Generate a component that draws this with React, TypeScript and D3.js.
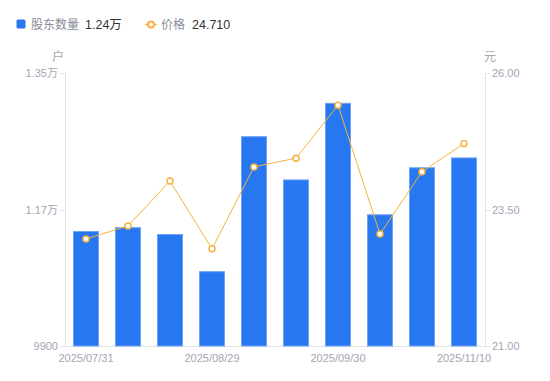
import React from "react";
import * as d3 from "d3";

const dates = ["2025/07/31", "2025/08/10", "2025/08/20", "2025/08/29", "2025/09/10", "2025/09/19", "2025/09/30", "2025/10/20", "2025/10/31", "2025/11/10"];
const holders = [11410, 11460, 11370, 10880, 12660, 12090, 13100, 11630, 12250, 12380];
const prices = [22.96, 23.20, 24.02, 22.78, 24.28, 24.44, 25.41, 23.05, 24.19, 24.71];
const leftTicks = [9900, 11700, 13500];
const leftTickLabels = ["9900", "1.17万", "1.35万"];
const rightTicks = [21, 23.5, 26];
const xLabelIdx = [0, 3, 6, 9];

const FONT = "'Liberation Sans', Arial, 'Noto Sans CJK SC', sans-serif";

export default function App() {
  const W = 550, H = 381;
  const L = 65, R = 485, T = 73, B = 346;
  const xc = d3.scaleBand<string>().domain(dates).range([L, R]);
  const yL = d3.scaleLinear().domain([9900, 13500]).range([B, T]);
  const yR = d3.scaleLinear().domain([21, 26]).range([B, T]);
  const line = d3.line<number>().x((_, i) => xc(dates[i])! + xc.bandwidth() / 2).y((d) => yR(d));
  const axisColor = "#e3e3e3";
  const tickText = "#a3a5b3";
  return (
    <svg width={W} height={H} style={{ position: "absolute", left: 0, top: 0, fontFamily: FONT }}>
      <rect width={W} height={H} fill="#fff" />
      {/* legend */}
      <rect x={16.5} y={19.5} width={9} height={9} rx={1.5} fill="#2777f0" />
      <text x={31} y={29} fontSize={12} fill="#8a8c99" textLength={48}>股东数量</text>
      <text x={85} y={29} fontSize={12.5} fill="#333">1.24万</text>
      <line x1={145} x2={157} y1={24.5} y2={24.5} stroke="#f8b13e" strokeWidth={1.5} />
      <circle cx={151} cy={24.5} r={3} fill="#fff" stroke="#f8b13e" strokeWidth={2} />
      <text x={161} y={29} fontSize={12} fill="#8a8c99">价格</text>
      <text x={192} y={29} fontSize={12.5} fill="#333">24.710</text>
      {/* unit labels */}
      <text x={58} y={61} fontSize={12} fill={tickText} textAnchor="middle">户</text>
      <text x={490} y={61} fontSize={12} fill={tickText} textAnchor="middle">元</text>
      {/* axes */}
      <line x1={L + 0.5} x2={L + 0.5} y1={T} y2={B} stroke={axisColor} />
      <line x1={R + 0.5} x2={R + 0.5} y1={T} y2={B} stroke={axisColor} />
      <line x1={L} x2={R} y1={B + 0.5} y2={B + 0.5} stroke={axisColor} />
      {leftTicks.map((t, i) => (
        <g key={"l" + i}>
          <line x1={L - 5} x2={L} y1={Math.round(yL(t)) + 0.5} y2={Math.round(yL(t)) + 0.5} stroke={axisColor} />
          <text x={L - 7} y={yL(t) + 4} fontSize={11} fill={tickText} textAnchor="end">{leftTickLabels[i]}</text>
        </g>
      ))}
      {rightTicks.map((t, i) => (
        <g key={"r" + i}>
          <line x1={R} x2={R + 5} y1={Math.round(yR(t)) + 0.5} y2={Math.round(yR(t)) + 0.5} stroke={axisColor} />
          <text x={R + 7} y={yR(t) + 4} fontSize={11} fill={tickText}>{t.toFixed(2)}</text>
        </g>
      ))}
      {xLabelIdx.map((i) => (
        <text key={"x" + i} x={xc(dates[i])! + xc.bandwidth() / 2} y={362} fontSize={11} fill={tickText} textAnchor="middle">{dates[i]}</text>
      ))}
      {/* bars */}
      {holders.map((v, i) => {
        const cx = xc(dates[i])! + xc.bandwidth() / 2;
        const bw = 25;
        return (
          <rect key={"b" + i} x={cx - bw / 2} y={yL(v)} width={bw} height={B - yL(v)} fill="#2777f0" stroke="#6ea2f5" strokeWidth={1} />
        );
      })}
      {/* line */}
      <path d={line(prices)!} fill="none" stroke="#f8b13e" strokeWidth={1} />
      {prices.map((p, i) => (
        <circle key={"p" + i} cx={xc(dates[i])! + xc.bandwidth() / 2} cy={yR(p)} r={3} fill="#fff" stroke="#f8b13e" strokeWidth={1.5} />
      ))}
    </svg>
  );
}
